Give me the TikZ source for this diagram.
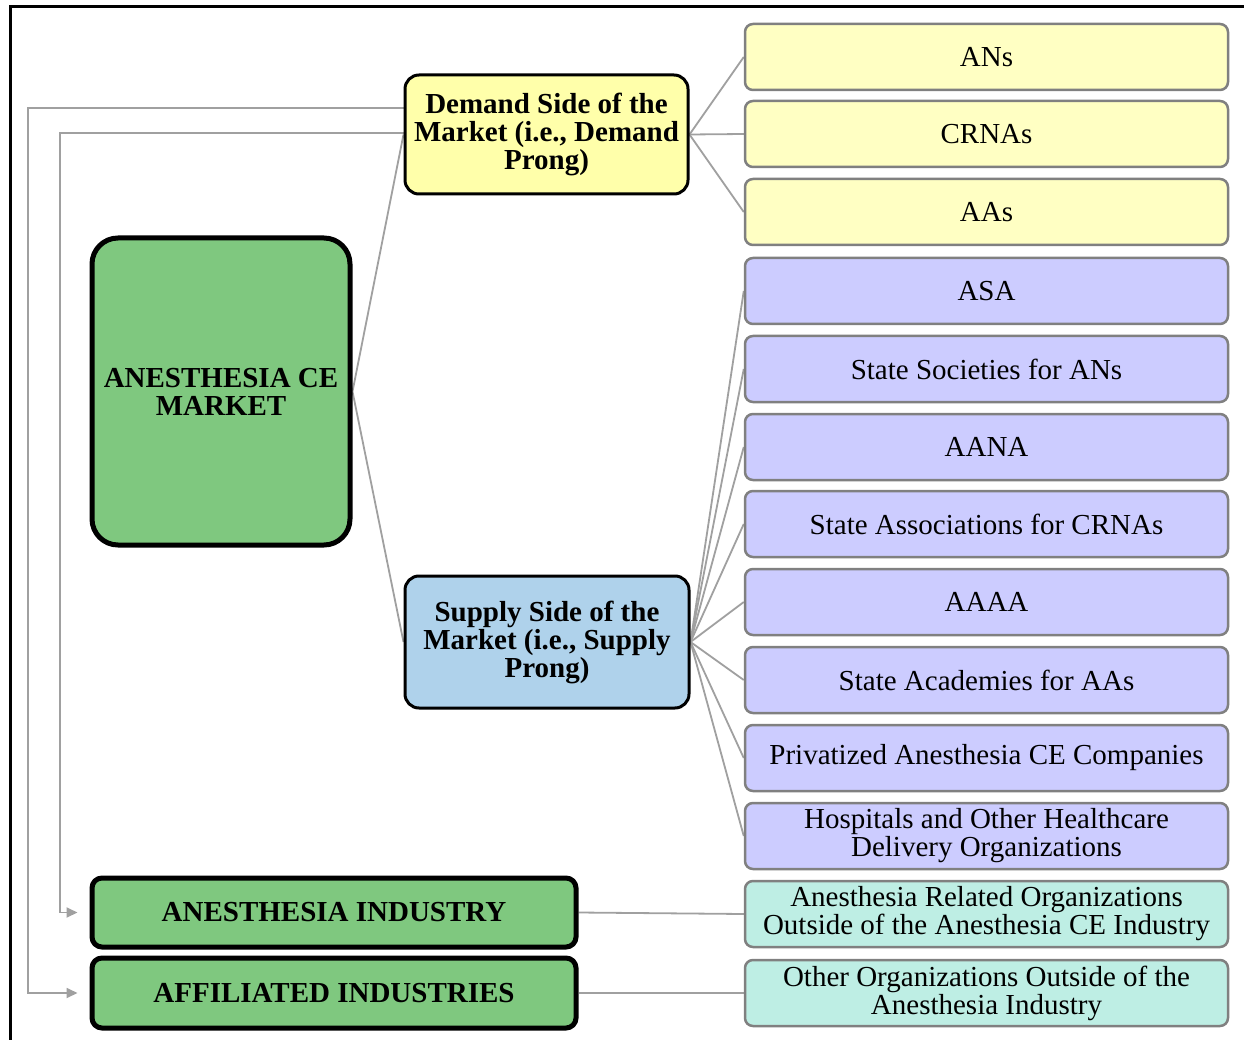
\documentclass[tikz,border=0pt]{standalone}
\usepackage{fontspec}
\setmainfont{Liberation Serif}
\usetikzlibrary{arrows.meta,backgrounds}

\definecolor{mktgreen}{RGB}{127,200,127}
\definecolor{demfill}{RGB}{255,255,170}
\definecolor{supfill}{RGB}{175,210,235}
\definecolor{yleaf}{RGB}{255,255,195}
\definecolor{pleaf}{RGB}{204,204,255}
\definecolor{tleaf}{RGB}{190,238,228}
\definecolor{leafline}{RGB}{128,128,128}
\definecolor{linkgrey}{RGB}{160,160,160}

\begin{document}
\begin{tikzpicture}[x=1pt,y=-1pt,
  txt/.style={font=\fontsize{29}{28}\selectfont, align=center, inner sep=0pt, text=black},
  hub/.style={txt, font=\fontsize{29}{28}\selectfont\bfseries, draw=black, line width=3pt, rounded corners=14pt},
  bighub/.style={hub, line width=5pt},
  leaf/.style={txt, draw=leafline, line width=2.5pt, rounded corners=8pt,
               minimum width=483pt, minimum height=66pt},
  link/.style={draw=linkgrey, line width=1.8pt},
  feed/.style={link, -{Triangle[length=11pt,width=10pt]}}
]
\useasboundingbox (0,0) rectangle (1244,1040);

% central hubs
\node[bighub, fill=mktgreen, minimum width=258pt, minimum height=307pt, rounded corners=26pt]
  (mkt) at (221,391.5) {ANESTHESIA CE\\MARKET};
\node[hub, fill=demfill, minimum width=283pt, minimum height=119pt]
  (dem) at (546.5,134.5) {Demand Side of the\\Market (i.e., Demand\\Prong)};
\node[hub, fill=supfill, minimum width=284pt, minimum height=132pt]
  (sup) at (547,642) {Supply Side of the\\Market (i.e., Supply\\Prong)};
\node[bighub, fill=mktgreen, minimum width=484pt, minimum height=69pt, rounded corners=10pt]
  (ind) at (334,912.5) {ANESTHESIA INDUSTRY};
\node[bighub, fill=mktgreen, minimum width=484pt, minimum height=70pt, rounded corners=10pt]
  (aff) at (334,993) {AFFILIATED INDUSTRIES};

% demand side members
\node[leaf, fill=yleaf] (ans)   at (986.5,57)  {ANs};
\node[leaf, fill=yleaf] (crnas) at (986.5,134) {CRNAs};
\node[leaf, fill=yleaf] (aas)   at (986.5,212) {AAs};

% supply side members
\node[leaf, fill=pleaf] (asa)   at (986.5,291) {ASA};
\node[leaf, fill=pleaf] (socan) at (986.5,369) {State Societies for ANs};
\node[leaf, fill=pleaf] (aana)  at (986.5,447) {AANA};
\node[leaf, fill=pleaf] (assoc) at (986.5,524) {State Associations for CRNAs};
\node[leaf, fill=pleaf] (aaaa)  at (986.5,602) {AAAA};
\node[leaf, fill=pleaf] (acad)  at (986.5,680) {State Academies for AAs};
\node[leaf, fill=pleaf] (priv)  at (986.5,758) {Privatized Anesthesia CE Companies};
\node[leaf, fill=pleaf] (hosp)  at (986.5,836) {Hospitals and Other Healthcare\\Delivery Organizations};

% outside organizations
\node[leaf, fill=tleaf] (rel)   at (986.5,914) {Anesthesia Related Organizations\\Outside of the Anesthesia CE Industry};
\node[leaf, fill=tleaf] (oth)   at (986.5,993) {Other Organizations Outside of the\\Anesthesia Industry};

\begin{pgfonlayer}{background}
  \fill[white] (0,0) rectangle (1244,1040);
  % frame edges
  \draw[black, line width=3pt] (10,1040) -- (10,7) -- (1244,7);

  % market to both prongs
  \draw[link] (mkt.east) -- (dem.west);
  \draw[link] (mkt.east) -- (sup.west);

  % prongs to their members
  \foreach \t in {ans,crnas,aas} \draw[link] (dem.east) -- (\t.west);
  \foreach \t in {asa,socan,aana,assoc,aaaa,acad,priv,hosp} \draw[link] (sup.east) -- (\t.west);

  % industries to outside organizations
  \draw[link] (ind.east) -- (rel.west);
  \draw[link] (aff.east) -- (oth.west);

  % feedback from demand side down to the industries
  \draw[feed] ([yshift=26.5pt]dem.west) -| (28,993) -- ([xshift=-12pt]aff.west);
  \draw[feed] ([yshift=1.5pt]dem.west) -| (60,912.5) -- ([xshift=-12pt]ind.west);
\end{pgfonlayer}
\end{tikzpicture}
\end{document}
